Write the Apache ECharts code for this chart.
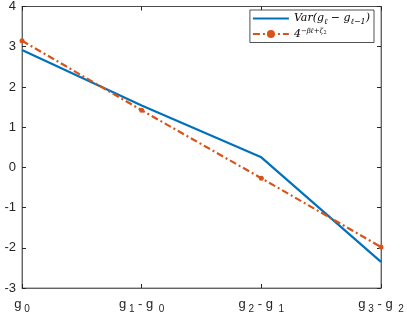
<!DOCTYPE html>
<html><head><meta charset="utf-8">
<script src="https://cdn.jsdelivr.net/npm/echarts@6/dist/echarts.min.js"></script>
<style>html,body{margin:0;padding:0;background:#fff}#c{width:407px;height:317px}</style>
</head><body><div id="c"></div>
<script>
var categories = ['g0', 'g1-g0', 'g2-g1', 'g3-g2'];
var varSeries = [2.92, 1.54, 0.25, -2.35];
var fitSeries = [3.15, 1.42, -0.27, -1.98];
var yTicks = [-3, -2, -1, 0, 1, 2, 3, 4];

var xLabelRich = {
  m: {fontFamily: 'Liberation Sans', fontSize: 13, color: '#262626'},
  s: {fontFamily: 'Liberation Sans', fontSize: 10, color: '#262626', padding: [10, 0, 0, 0]}
};
function xfmt(v) {
  var p = v.split('-');
  if (p.length === 1) return '{m|g}{s| ' + p[0].slice(1) + '}';
  return '{m|g}{s| ' + p[0].slice(1) + '}{m| - g}{s|  ' + p[1].slice(1) + '}';
}
var chart = echarts.init(document.getElementById('c'));
var axisLine = {onZero: false, lineStyle: {color: '#262626', width: 0.6}};
chart.setOption({
  animation: false,
  grid: {left: 22, right: 26, top: 6, bottom: 29, show: true, borderColor: '#262626', borderWidth: 0.6},
  legend: {
    right: 33, top: 10, orient: 'vertical', itemWidth: 36, itemHeight: 10, itemGap: 2,
    backgroundColor: '#fff', borderColor: '#262626', borderWidth: 0.8, borderRadius: 0,
    padding: [3, 4, 3, 2],
    formatter: function (n) {
      if (n === 'var') return '{i|Var(g}{sb|ℓ}{i| − g}{sb|ℓ−1}{i|)}';
      return '{i|4}{sp|−βℓ+ζ}{sps|2}';
    },
    textStyle: {
      rich: {
        i: {fontFamily: 'DejaVu Serif', fontStyle: 'italic', fontSize: 11, color: '#000'},
        sb: {fontFamily: 'DejaVu Serif', fontStyle: 'italic', fontSize: 8, color: '#000', padding: [6, 0, 0, 0]},
        sp: {fontFamily: 'DejaVu Serif', fontStyle: 'italic', fontSize: 7, color: '#000', padding: [0, 0, 6, 0]},
        sps: {fontFamily: 'DejaVu Serif', fontSize: 5, color: '#000', padding: [0, 0, 3, 0]}
      }
    },
    data: [{name: 'var', icon: 'path://M0,4L36,4L36,6L0,6Z'}, {name: 'fit'}]
  },
  xAxis: [{
    type: 'category', data: categories, boundaryGap: false,
    axisLine: axisLine, axisTick: {inside: true, length: 4, interval: 0, lineStyle: {color: '#262626'}},
    axisLabel: {formatter: xfmt, rich: xLabelRich, margin: 6, interval: 0, hideOverlap: false, showMaxLabel: true}
  }, {
    type: 'category', data: categories, boundaryGap: false, position: 'top',
    axisLine: axisLine, axisTick: {inside: true, length: 4, interval: 0, lineStyle: {color: '#262626'}}, axisLabel: {show: false}
  }],
  yAxis: [{
    type: 'value', min: -3, max: 4, interval: 1,
    axisLine: {show: true, onZero: false, lineStyle: {color: '#262626', width: 0.6}},
    axisTick: {show: true, inside: true, length: 4, lineStyle: {color: '#262626'}},
    splitLine: {show: false},
    axisLabel: {fontFamily: 'Liberation Sans', fontSize: 13, color: '#262626', margin: 6}
  }, {
    type: 'value', min: -3, max: 4, interval: 1, position: 'right',
    axisLine: {show: true, onZero: false, lineStyle: {color: '#262626', width: 0.6}},
    axisTick: {show: true, inside: true, length: 4, lineStyle: {color: '#262626'}},
    splitLine: {show: false}, axisLabel: {show: false}
  }],
  series: [{
    name: 'var', type: 'line', data: varSeries, symbol: 'none',
    lineStyle: {color: '#0072BD', width: 2.2}, itemStyle: {color: '#0072BD'}
  }, {
    name: 'fit', type: 'line', data: fitSeries, symbol: 'circle', symbolSize: 5,
    lineStyle: {color: '#D95319', width: 2.2, type: [7, 3, 2, 3]}, itemStyle: {color: '#D95319'}
  }]
});
</script></body></html>
